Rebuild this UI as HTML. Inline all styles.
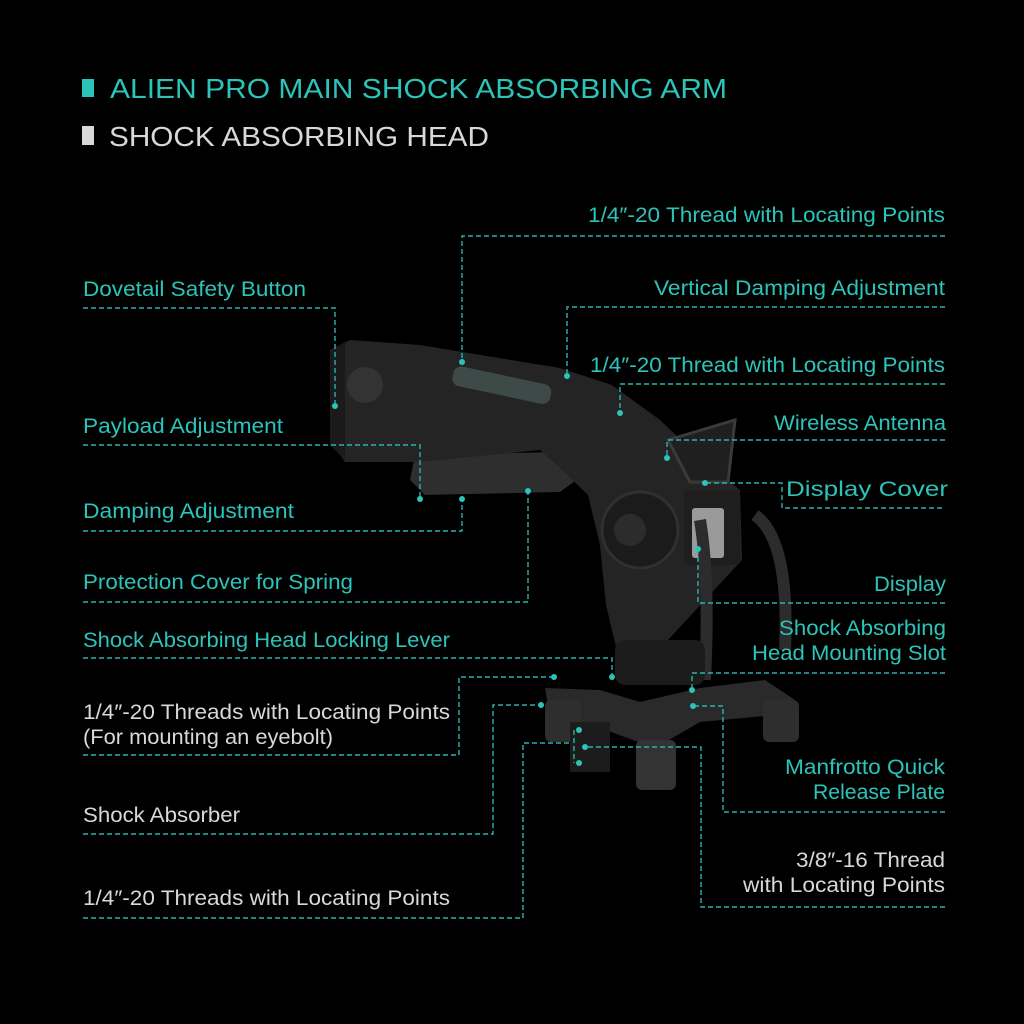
<!DOCTYPE html>
<html><head><meta charset="utf-8"><style>
html,body{margin:0;padding:0;background:#000;}
svg{display:block}
.c{fill:#2cc3b9;font-family:"Liberation Sans",sans-serif;font-size:21px}
.w{fill:#d8d8d8;font-family:"Liberation Sans",sans-serif;font-size:21px}
.l{stroke:#2bb3aa;stroke-width:1.4;stroke-dasharray:5 3;fill:none}
.d{fill:#2cc3b9}
</style></head><body>
<svg width="1024" height="1024" viewBox="0 0 1024 1024" xmlns="http://www.w3.org/2000/svg">
<rect width="1024" height="1024" fill="#000"/>
<rect x="82" y="79" width="12" height="18" fill="#2cc3b9"/>
<text x="110" y="98" fill="#2cc3b9" font-family="Liberation Sans,sans-serif" font-size="28" textLength="617" lengthAdjust="spacingAndGlyphs">ALIEN PRO MAIN SHOCK ABSORBING ARM</text>
<rect x="82" y="126" width="12" height="19" fill="#d8d8d8"/>
<text x="109" y="146" fill="#d8d8d8" font-family="Liberation Sans,sans-serif" font-size="28" textLength="380" lengthAdjust="spacingAndGlyphs">SHOCK ABSORBING HEAD</text>

<g>
<polygon points="415,455 560,452 590,470 560,492 425,495 410,480" fill="#2e2e2e"/>
<polygon points="330,350 350,340 420,345 560,368 612,385 660,420 700,458 740,490 742,560 705,600 668,640 645,665 618,655 606,605 600,545 588,495 560,468 540,450 420,462 345,462 330,440" fill="#242424"/>
<polygon points="330,352 345,342 345,460 330,445" fill="#1a1a1a"/>
<circle cx="365" cy="385" r="18" fill="#333"/>
<circle cx="640" cy="530" r="38" fill="#1b1b1b" stroke="#303030" stroke-width="3"/>
<circle cx="630" cy="530" r="16" fill="#2c2c2c"/>
<polygon points="668,440 735,420 728,482 690,482" fill="#1f1f1f" stroke="#3a3a3a" stroke-width="3"/>
<rect x="684" y="490" width="56" height="75" fill="#1e1e1e" rx="4"/>
<rect x="692" y="508" width="32" height="50" fill="#9a9a9a" rx="3"/>
<path d="M700 520 Q710 580 705 680" stroke="#2c2c2c" stroke-width="12" fill="none"/>
<path d="M755 515 Q790 540 785 650" stroke="#2c2c2c" stroke-width="12" fill="none"/>
<rect x="615" y="640" width="90" height="45" fill="#1c1c1c" rx="10"/>
<polygon points="545,688 600,690 640,702 700,688 765,680 795,700 765,716 700,722 655,748 600,728 550,718" fill="#2a2a2a"/>
<rect x="545" y="700" width="36" height="42" fill="#2e2e2e" rx="6"/>
<rect x="763" y="700" width="36" height="42" fill="#2e2e2e" rx="6"/>
<rect x="636" y="740" width="40" height="50" fill="#333" rx="6"/>
<rect x="570" y="722" width="40" height="50" fill="#1c1c1c"/>
<rect x="455" y="365" width="100" height="20" fill="#3d4a48" transform="rotate(12 455 365)" rx="8"/>
</g>

<polyline class="l" points="945,236 462,236 462,362"/><circle class="d" cx="462" cy="362" r="3"/>
<polyline class="l" points="945,307 567,307 567,376"/><circle class="d" cx="567" cy="376" r="3"/>
<polyline class="l" points="945,384 620,384 620,413"/><circle class="d" cx="620" cy="413" r="3"/>
<polyline class="l" points="945,440 667,440 667,458"/><circle class="d" cx="667" cy="458" r="3"/>
<polyline class="l" points="942,508 782,508 782,483 705,483"/><circle class="d" cx="705" cy="483" r="3"/>
<polyline class="l" points="945,603 698,603 698,549"/><circle class="d" cx="698" cy="549" r="3"/>
<polyline class="l" points="945,673 692,673 692,690"/><circle class="d" cx="692" cy="690" r="3"/>
<polyline class="l" points="945,812 723,812 723,706 693,706"/><circle class="d" cx="693" cy="706" r="3"/>
<polyline class="l" points="945,907 701,907 701,747 585,747"/><circle class="d" cx="585" cy="747" r="3"/>

<polyline class="l" points="83,308 335,308 335,406"/><circle class="d" cx="335" cy="406" r="3"/>
<polyline class="l" points="83,445 420,445 420,499"/><circle class="d" cx="420" cy="499" r="3"/>
<polyline class="l" points="83,531 462,531 462,499"/><circle class="d" cx="462" cy="499" r="3"/>
<polyline class="l" points="83,602 528,602 528,491"/><circle class="d" cx="528" cy="491" r="3"/>
<polyline class="l" points="83,658 612,658 612,677"/><circle class="d" cx="612" cy="677" r="3"/>
<polyline class="l" points="83,755 459,755 459,677 554,677"/><circle class="d" cx="554" cy="677" r="3"/>
<polyline class="l" points="83,834 493,834 493,705 541,705"/><circle class="d" cx="541" cy="705" r="3"/>
<polyline class="l" points="83,918 523,918 523,743 572,743"/>
<polyline class="l" points="574,730 574,763"/>
<circle class="d" cx="579" cy="730" r="3"/><circle class="d" cx="579" cy="763" r="3"/>

<text class="c" x="945" y="222" text-anchor="end" textLength="357" lengthAdjust="spacingAndGlyphs">1/4″-20 Thread with Locating Points</text>
<text class="c" x="945" y="295" text-anchor="end" textLength="291" lengthAdjust="spacingAndGlyphs">Vertical Damping Adjustment</text>
<text class="c" x="945" y="372" text-anchor="end" textLength="355" lengthAdjust="spacingAndGlyphs">1/4″-20 Thread with Locating Points</text>
<text class="c" x="946" y="430" text-anchor="end" textLength="172" lengthAdjust="spacingAndGlyphs">Wireless Antenna</text>
<text class="c" x="948" y="496" text-anchor="end" textLength="162" lengthAdjust="spacingAndGlyphs">Display Cover</text>
<text class="c" x="946" y="591" text-anchor="end" textLength="72" lengthAdjust="spacingAndGlyphs">Display</text>
<text class="c" x="946" y="635" text-anchor="end" textLength="167" lengthAdjust="spacingAndGlyphs">Shock Absorbing</text>
<text class="c" x="946" y="660" text-anchor="end" textLength="194" lengthAdjust="spacingAndGlyphs">Head Mounting Slot</text>
<text class="c" x="945" y="774" text-anchor="end" textLength="160" lengthAdjust="spacingAndGlyphs">Manfrotto Quick</text>
<text class="c" x="945" y="799" text-anchor="end" textLength="132" lengthAdjust="spacingAndGlyphs">Release Plate</text>
<text class="w" x="945" y="867" text-anchor="end" textLength="149" lengthAdjust="spacingAndGlyphs">3/8″-16 Thread</text>
<text class="w" x="945" y="892" text-anchor="end" textLength="202" lengthAdjust="spacingAndGlyphs">with Locating Points</text>

<text class="c" x="83" y="296" textLength="223" lengthAdjust="spacingAndGlyphs">Dovetail Safety Button</text>
<text class="c" x="83" y="433" textLength="200" lengthAdjust="spacingAndGlyphs">Payload Adjustment</text>
<text class="c" x="83" y="518" textLength="211" lengthAdjust="spacingAndGlyphs">Damping Adjustment</text>
<text class="c" x="83" y="589" textLength="270" lengthAdjust="spacingAndGlyphs">Protection Cover for Spring</text>
<text class="c" x="83" y="647" textLength="367" lengthAdjust="spacingAndGlyphs">Shock Absorbing Head Locking Lever</text>
<text class="w" x="83" y="719" textLength="367" lengthAdjust="spacingAndGlyphs">1/4″-20 Threads with Locating Points</text>
<text class="w" x="83" y="744" textLength="250" lengthAdjust="spacingAndGlyphs">(For mounting an eyebolt)</text>
<text class="w" x="83" y="822" textLength="157" lengthAdjust="spacingAndGlyphs">Shock Absorber</text>
<text class="w" x="83" y="905" textLength="367" lengthAdjust="spacingAndGlyphs">1/4″-20 Threads with Locating Points</text>
</svg>
</body></html>
